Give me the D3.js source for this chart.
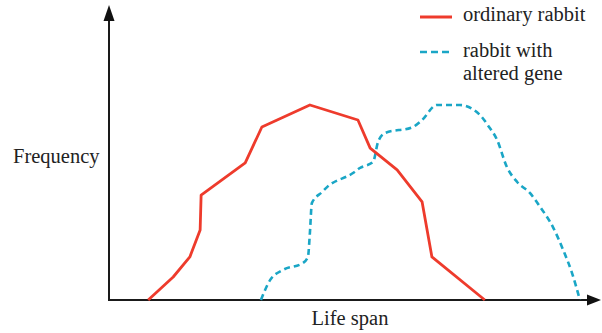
<!DOCTYPE html>
<html><head><meta charset="utf-8">
<script src="https://cdn.jsdelivr.net/npm/d3@7"></script>
<style>html,body{margin:0;padding:0;background:#fff;}svg{display:block;}</style>
</head><body>
<svg id="chart" width="602" height="333"></svg>
<script>
// Life span (0-100, arbitrary units) and frequency (0-100, arbitrary units)
const ordinaryLife = [8.0, 13.1, 16.5, 18.6, 18.8, 27.8, 31.2, 41.0, 50.8, 53.3, 58.8, 63.9, 65.9, 76.7];
const ordinaryFreq = [0, 11.8, 22.1, 35.9, 53.8, 70.3, 88.7, 100, 92.3, 77.9, 66.7, 50.3, 22.1, 0];
const alteredLife = [31.0, 32.9, 35.5, 39.6, 40.6, 41.0, 41.4, 43.5, 44.5, 49.8, 51.2, 53.9, 54.9, 56.3, 62.0, 63.9, 66.9, 71.6, 75.7, 77.3, 79.2, 81.2, 83.3, 85.9, 88.0, 90.6, 92.7, 94.5, 96.1];
const alteredFreq = [0, 10.3, 15.4, 19.0, 22.1, 34.4, 49.7, 55.4, 57.9, 65.1, 67.7, 70.8, 81.0, 85.6, 88.7, 92.3, 100, 100, 94.9, 89.7, 82.1, 68.2, 60.5, 54.9, 47.7, 37.4, 25.6, 13.8, 0];
const seriesNames = ["ordinary rabbit", "rabbit with altered gene"];
const xTitle = "Life span";
const yTitle = "Frequency";

const svg = d3.select("#chart");
const x = d3.scaleLinear().domain([0, 100]).range([109, 599]);
const y = d3.scaleLinear().domain([0, 100]).range([300, 105]);
const serif = "'Liberation Serif', 'DejaVu Serif', serif";
const fs = 20.5;

const red = "#ee3b2c", blue = "#1aa6c6";

// axes (no ticks) with arrowheads
const xAxis = d3.axisBottom(x).tickValues([]).tickSizeOuter(0);
const yAxis = d3.axisLeft(y).tickValues([]).tickSizeOuter(0);
const gx = svg.append("g").attr("transform", `translate(0,${y(0)})`).call(xAxis);
gx.select(".domain").attr("stroke", "#1a1a1a").attr("stroke-width", 2).attr("d", `M${x(0)},0H${x(100) - 8}`);
const gy = svg.append("g").attr("transform", `translate(${x(0)},0)`).call(yAxis);
gy.select(".domain").attr("stroke", "#1a1a1a").attr("stroke-width", 2).attr("d", `M0,${y(0) + 1}V18`);
svg.append("path").attr("d", `M${x(0)},5L${x(0) - 5.5},21L${x(0) + 5.5},21Z`).attr("fill", "#111");
svg.append("path").attr("d", `M${x(100) + 2},${y(0)}L${x(100) - 12},${y(0) - 5.5}L${x(100) - 12},${y(0) + 5.5}Z`).attr("fill", "#111");

// lines
const ord = ordinaryLife.map((v, i) => [v, ordinaryFreq[i]]);
const alt = alteredLife.map((v, i) => [v, alteredFreq[i]]);
svg.append("path").datum(alt)
  .attr("d", d3.line().x(d => x(d[0])).y(d => y(d[1])).curve(d3.curveMonotoneX))
  .attr("fill", "none").attr("stroke", blue).attr("stroke-width", 2.6)
  .attr("stroke-dasharray", "6,4");
svg.append("path").datum(ord)
  .attr("d", d3.line().x(d => x(d[0])).y(d => y(d[1])))
  .attr("fill", "none").attr("stroke", red).attr("stroke-width", 2.8)
  .attr("stroke-linejoin", "round");

// titles
svg.append("text").attr("x", 13).attr("y", 163).text(yTitle)
  .attr("font-family", serif).attr("font-size", fs).attr("fill", "#222");
svg.append("text").attr("x", 350).attr("y", 325).attr("text-anchor", "middle").text(xTitle)
  .attr("font-family", serif).attr("font-size", fs).attr("fill", "#222");

// legend
const lg = svg.append("g");
lg.append("line").attr("x1", 420).attr("x2", 452).attr("y1", 17).attr("y2", 17)
  .attr("stroke", red).attr("stroke-width", 3);
lg.append("text").attr("x", 463).attr("y", 21).text(seriesNames[0])
  .attr("font-family", serif).attr("font-size", fs).attr("fill", "#222");
lg.append("line").attr("x1", 420).attr("x2", 451).attr("y1", 52).attr("y2", 52)
  .attr("stroke", blue).attr("stroke-width", 2.6).attr("stroke-dasharray", "7,4");
const t2 = lg.append("text").attr("font-family", serif).attr("font-size", fs).attr("fill", "#222");
t2.append("tspan").attr("x", 463).attr("y", 57).text("rabbit with");
t2.append("tspan").attr("x", 463).attr("y", 80).text("altered gene");
</script>
</body></html>
